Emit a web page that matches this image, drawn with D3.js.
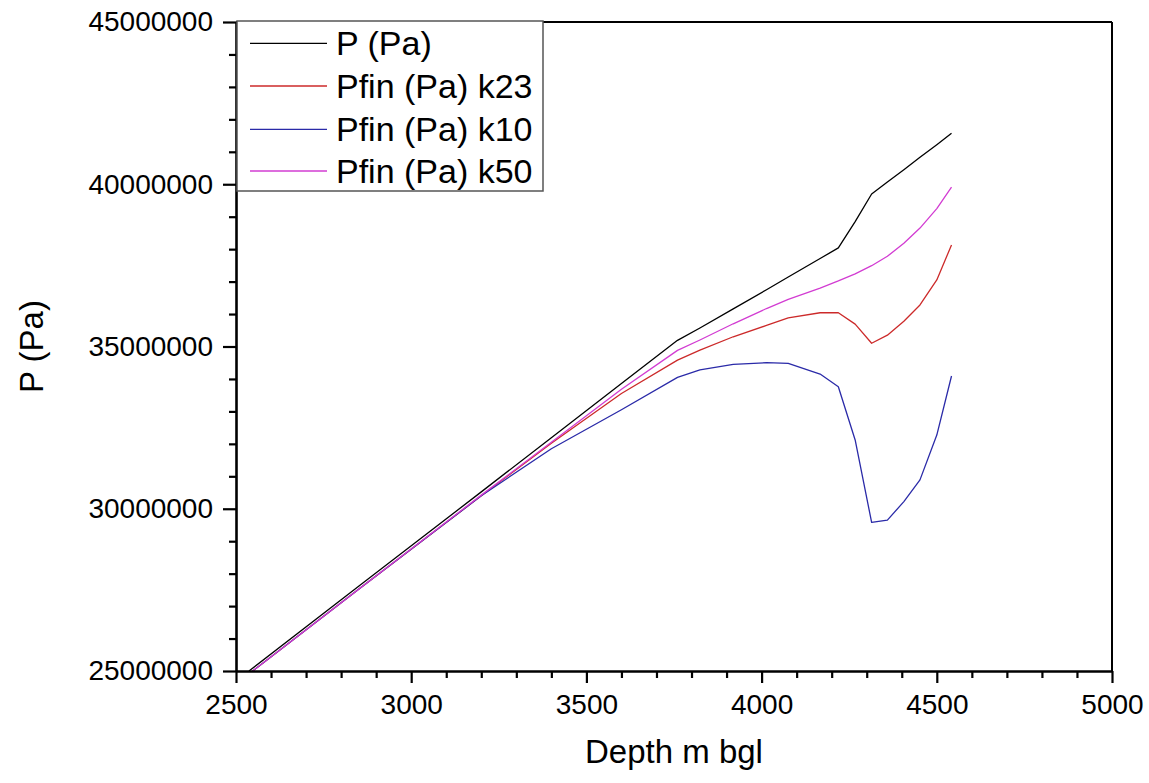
<!DOCTYPE html>
<html><head><meta charset="utf-8">
<script src="https://cdn.jsdelivr.net/npm/d3@7"></script>
<style>
html,body{margin:0;padding:0;background:#fff;}
svg{display:block;font-family:"Liberation Sans",Arial,sans-serif;}
</style></head>
<body>
<svg id="chart" width="1149" height="783"></svg>
<script>
// Depth (m bgl)
const depth = [2537, 2850, 3200, 3400, 3600, 3760, 3824, 3919, 4014, 4076, 4167, 4219, 4267, 4314, 4359, 4406, 4452, 4500, 4542];
// Pressures (Pa)
const pPa      = [25.00e6, 27.61e6, 30.52e6, 32.19e6, 33.86e6, 35.19e6, 35.57e6, 36.16e6, 36.75e6, 37.14e6, 37.71e6, 38.04e6, 38.85e6, 39.70e6, 40.07e6, 40.45e6, 40.83e6, 41.22e6, 41.57e6];
const pfinK23  = [24.91e6, 27.52e6, 30.40e6, 32.02e6, 33.55e6, 34.58e6, 34.89e6, 35.30e6, 35.65e6, 35.88e6, 36.04e6, 36.04e6, 35.69e6, 35.10e6, 35.35e6, 35.78e6, 36.28e6, 37.05e6, 38.13e6];
const pfinK10  = [24.91e6, 27.52e6, 30.40e6, 31.85e6, 33.05e6, 34.05e6, 34.28e6, 34.45e6, 34.50e6, 34.48e6, 34.15e6, 33.76e6, 32.12e6, 29.58e6, 29.65e6, 30.22e6, 30.89e6, 32.27e6, 34.09e6];
const pfinK50  = [24.91e6, 27.52e6, 30.42e6, 32.05e6, 33.68e6, 34.88e6, 35.20e6, 35.70e6, 36.17e6, 36.45e6, 36.80e6, 37.02e6, 37.24e6, 37.49e6, 37.78e6, 38.18e6, 38.65e6, 39.25e6, 39.91e6];
const seriesNames = ["P (Pa)", "Pfin (Pa) k23", "Pfin (Pa) k10", "Pfin (Pa) k50"];
const seriesColors = ["#000000", "#cc2a2a", "#2a2aa8", "#d23cd2"];
const seriesValues = [pPa, pfinK23, pfinK10, pfinK50];

const xMajor = [2500, 3000, 3500, 4000, 4500, 5000];
const yMajor = [25000000, 30000000, 35000000, 40000000, 45000000];
const xTitle = "Depth m bgl";
const yTitle = "P (Pa)";

const svg = d3.select("#chart");
const L = 236, R = 1112, T = 22, B = 671;
const x = d3.scaleLinear().domain([2500, 5000]).range([L, R]);
const y = d3.scaleLinear().domain([25e6, 45e6]).range([B, T]);

svg.append("defs").append("clipPath").attr("id","clip")
  .append("rect").attr("x", L).attr("y", T).attr("width", R-L).attr("height", B-T);

// lines
const line = d3.line().x((d,i)=>x(depth[i])).y(d=>y(d));
const g = svg.append("g").attr("clip-path","url(#clip)");
seriesValues.forEach((vals, k) => {
  g.append("path").datum(vals).attr("d", line)
    .attr("fill","none").attr("stroke", seriesColors[k]).attr("stroke-width", 1.3)
    .attr("stroke-linejoin","round");
});

// frame top/right
svg.append("line").attr("x1", L).attr("x2", R).attr("y1", T).attr("y2", T).attr("stroke","#000").attr("stroke-width",2);
svg.append("line").attr("x1", R).attr("x2", R).attr("y1", T).attr("y2", B).attr("stroke","#000").attr("stroke-width",2);

// x minor ticks
const xMinor = d3.range(2500, 5001, 100).filter(v => !xMajor.includes(v));
const xMinorAxis = svg.append("g").attr("transform", `translate(0,${B})`)
  .call(d3.axisBottom(x).tickValues(xMinor).tickSize(7).tickFormat(""));
xMinorAxis.select(".domain").remove();
const xAxis = svg.append("g").attr("transform", `translate(0,${B})`)
  .call(d3.axisBottom(x).tickValues(xMajor).tickSize(12).tickSizeOuter(0).tickPadding(8).tickFormat(d3.format("d")));

const yMinor = d3.range(25e6, 45e6 + 1, 1e6).filter(v => !yMajor.includes(v));
const yMinorAxis = svg.append("g").attr("transform", `translate(${L},0)`)
  .call(d3.axisLeft(y).tickValues(yMinor).tickSize(7).tickFormat(""));
yMinorAxis.select(".domain").remove();
const yAxis = svg.append("g").attr("transform", `translate(${L},0)`)
  .call(d3.axisLeft(y).tickValues(yMajor).tickSize(13).tickSizeOuter(0).tickPadding(10).tickFormat(d3.format("d")));

[xMinorAxis, xAxis, yMinorAxis, yAxis].forEach(a => {
  a.selectAll("line").attr("stroke","#000").attr("stroke-width",2.2);
  a.selectAll(".domain").attr("stroke","#000").attr("stroke-width",2.6);
  a.selectAll("text").attr("fill","#000").attr("font-size",28).attr("font-family","Liberation Sans, Arial, sans-serif");
});
xAxis.selectAll("text").attr("dy","0.82em");

// titles
svg.append("text").attr("x", (L+R)/2).attr("y", 763).attr("text-anchor","middle")
  .attr("font-size", 33).attr("fill","#000").text(xTitle);
svg.append("text").attr("transform", `translate(43,${(T+B)/2}) rotate(-90)`).attr("text-anchor","middle")
  .attr("font-size", 33).attr("fill","#000").text(yTitle);

// legend
const lg = svg.append("g");
lg.append("rect").attr("x", 237).attr("y", 21).attr("width", 306).attr("height", 170)
  .attr("fill","#fff").attr("stroke","#555").attr("stroke-width",1.5);
const rows = [43.3, 86, 129.3, 171];
seriesNames.forEach((n,k) => {
  lg.append("line").attr("x1",250).attr("x2",327).attr("y1",rows[k]).attr("y2",rows[k])
    .attr("stroke", seriesColors[k]).attr("stroke-width",1.3);
  lg.append("text").attr("x",336).attr("y",rows[k]+12).attr("font-size",34).attr("fill","#000").text(n);
});
</script>
</body></html>
